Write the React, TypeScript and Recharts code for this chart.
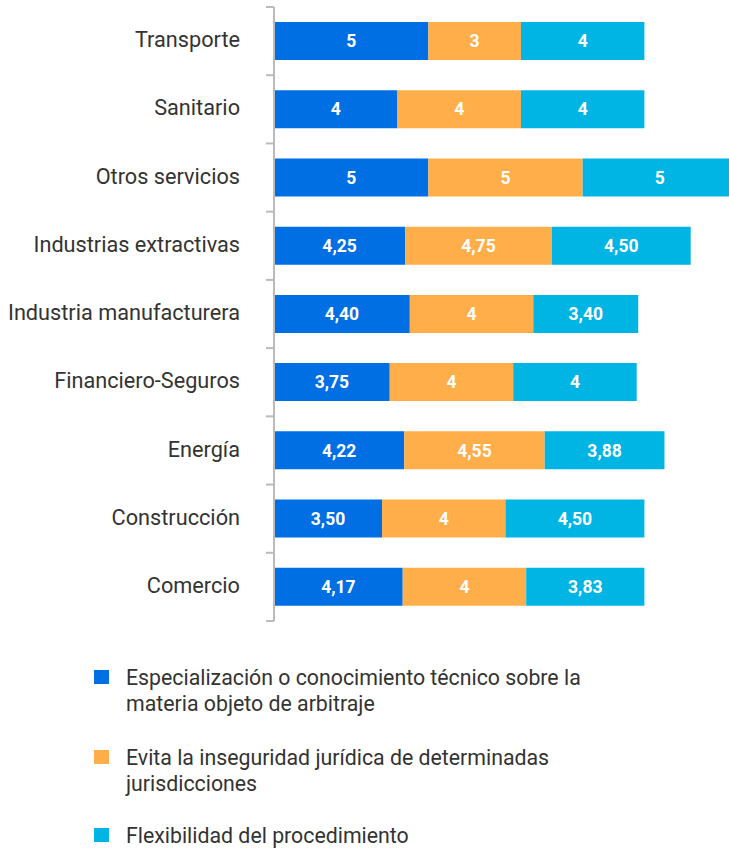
import React from 'react';
import { BarChart, Bar, XAxis, YAxis, LabelList } from 'recharts';

const categories = [
  'Transporte',
  'Sanitario',
  'Otros servicios',
  'Industrias extractivas',
  'Industria manufacturera',
  'Financiero-Seguros',
  'Energía',
  'Construcción',
  'Comercio',
];
const especializacion = [5, 4, 5, 4.25, 4.4, 3.75, 4.22, 3.5, 4.17];
const inseguridad = [3, 4, 5, 4.75, 4, 4, 4.55, 4, 4];
const flexibilidad = [4, 4, 5, 4.5, 3.4, 4, 3.88, 4.5, 3.83];

const seriesNames = [
  'Especialización o conocimiento técnico sobre la materia objeto de arbitraje',
  'Evita la inseguridad jurídica de determinadas jurisdicciones',
  'Flexibilidad del procedimiento',
];
const seriesColors = ['#006FE3', '#FFAE4A', '#00B5E3'];
const seriesKeys = ['a', 'b', 'c'];

const data = categories.map((name, i) => ({
  name,
  a: especializacion[i],
  b: inseguridad[i],
  c: flexibilidad[i],
}));

const FONT = 'Roboto, "Noto Sans", sans-serif';
const TOP = 7;
const PLOT_H = 614;
const BAND = PLOT_H / categories.length;

const fmt = (v: any) => {
  const n = Number(v);
  if (Number.isInteger(n)) return String(n);
  return n.toFixed(2).replace('.', ',');
};

const CategoryTick = (props: any) => {
  const { x, y, payload, index, visibleTicksCount } = props;
  const axisX = x + 34;
  const yTop = y - BAND / 2;
  const yBot = y + BAND / 2;
  const isLast = index === (visibleTicksCount ?? categories.length) - 1;
  return (
    <g>
      <text
        x={x}
        y={y}
        dy="0.28em"
        textAnchor="end"
        fontSize={21.7}
        fill="#333333"
        fontFamily={FONT}
      >
        {payload.value}
      </text>
      <line x1={axisX - 8} x2={axisX} y1={yTop} y2={yTop} stroke="#BBBBBB" strokeWidth={2} />
      {isLast && (
        <line x1={axisX - 8} x2={axisX} y1={yBot} y2={yBot} stroke="#BBBBBB" strokeWidth={2} />
      )}
    </g>
  );
};

const legendTops = [665, 745, 823];

export default function App() {
  return (
    <div
      style={{
        position: 'absolute',
        left: 0,
        top: 0,
        width: 729,
        height: 850,
        overflow: 'hidden',
        background: '#fff',
        fontFamily: FONT,
      }}
    >
      <BarChart
        width={760}
        height={640}
        data={data}
        layout="vertical"
        margin={{ top: TOP, right: 23, bottom: 640 - TOP - PLOT_H, left: 0 }}
        barSize={38}
      >
        <XAxis type="number" domain={[0, 15]} hide />
        <YAxis
          type="category"
          dataKey="name"
          width={274}
          tickLine={false}
          tickSize={8}
          tickMargin={26}
          axisLine={{ stroke: '#BBBBBB', strokeWidth: 2 }}
          tick={<CategoryTick />}
          interval={0}
        />
        {seriesKeys.map((k, i) => (
          <Bar
            key={k}
            dataKey={k}
            name={seriesNames[i]}
            stackId="s"
            fill={seriesColors[i]}
            isAnimationActive={false}
          >
            <LabelList
              dataKey={k}
              position="center"
              formatter={fmt}
              fill="#FFFFFF"
              fontSize={17.5}
              fontWeight={700}
              fontFamily={FONT}
            />
          </Bar>
        ))}
      </BarChart>
      {seriesNames.map((n, i) => (
        <div
          key={n}
          style={{
            position: 'absolute',
            left: 126,
            top: legendTops[i],
            width: 470,
            fontSize: 21.3,
            lineHeight: '26px',
            color: '#333333',
          }}
        >
          <span
            style={{
              position: 'absolute',
              left: -32,
              top: 5,
              width: 15,
              height: 14,
              background: seriesColors[i],
            }}
          />
          {n}
        </div>
      ))}
    </div>
  );
}
